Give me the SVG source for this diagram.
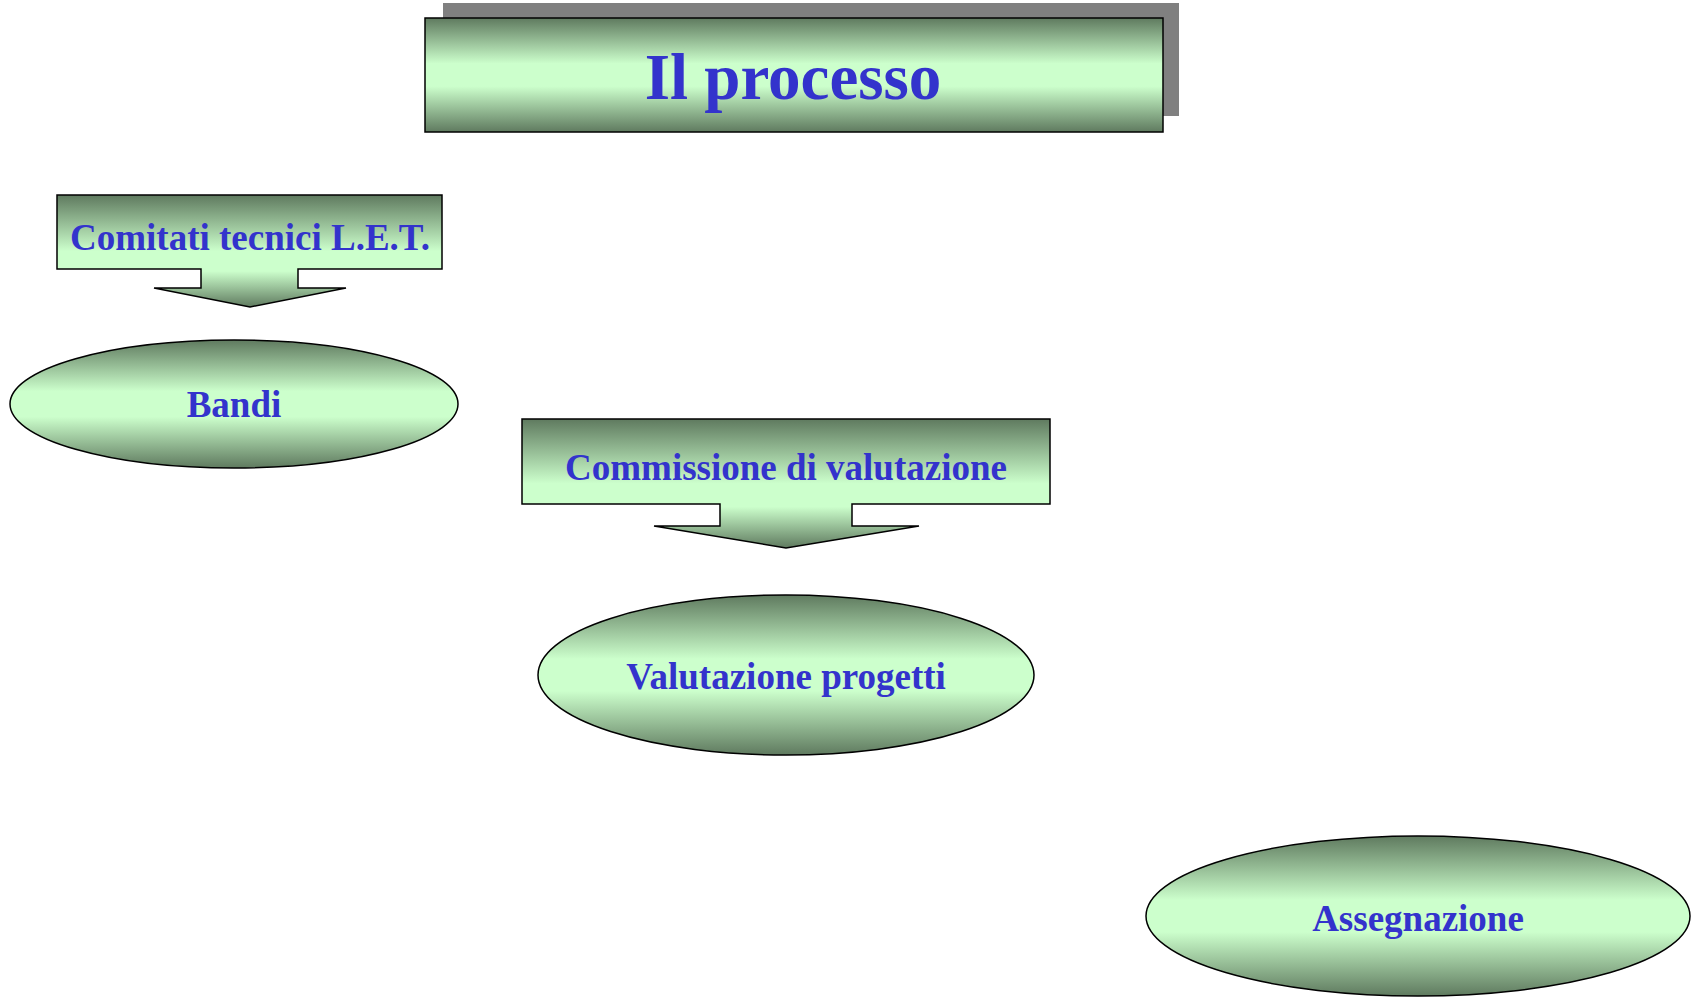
<svg xmlns="http://www.w3.org/2000/svg" width="1697" height="1002" viewBox="0 0 1697 1002">
<defs>
<linearGradient id="gv" x1="0" y1="0" x2="0" y2="1">
<stop offset="0" stop-color="#5f7a5f"/>
<stop offset="0.4" stop-color="#ccffcc"/>
<stop offset="0.6" stop-color="#ccffcc"/>
<stop offset="1" stop-color="#5f7a5f"/>
</linearGradient>
<linearGradient id="ga" x1="0" y1="0" x2="0" y2="1">
<stop offset="0" stop-color="#5f7a5f"/>
<stop offset="0.5" stop-color="#ccffcc"/>
<stop offset="0.68" stop-color="#ccffcc"/>
<stop offset="1" stop-color="#5f7a5f"/>
</linearGradient>
<style>
.sh{fill:url(#gv);stroke:#000;stroke-width:1.5}
.ar{fill:url(#ga);stroke:#000;stroke-width:1.5}
.t{font-family:"Liberation Serif","Times New Roman",serif;font-weight:bold;fill:#3333cc;text-anchor:middle;font-size:37px}
</style>
</defs>
<rect width="1697" height="1002" fill="#fff"/>
<g id="title">
<rect x="443" y="3" width="736" height="113" fill="#808080"/>
<rect x="425" y="18" width="738" height="114" class="sh" stroke-width="2"/>
<text x="793" y="99" class="t" style="font-size:65px">Il processo</text>
</g>
<g id="comitati">
<path class="ar" d="M57,195 H442 V269 H298 V288 H346 L250,307 L154,288 H201 V269 H57 Z"/>
<text x="250" y="250" class="t">Comitati tecnici L.E.T.</text>
</g>
<g id="bandi">
<ellipse cx="234" cy="404" rx="224" ry="64" class="sh"/>
<text x="234" y="417" class="t">Bandi</text>
</g>
<g id="commissione">
<path class="ar" d="M522,419 H1050 V504 H852 V526 H919 L786,548 L654,526 H720 V504 H522 Z"/>
<text x="786" y="480" class="t">Commissione di valutazione</text>
</g>
<g id="valutazione">
<ellipse cx="786" cy="675" rx="248" ry="80" class="sh"/>
<text x="786" y="689" class="t">Valutazione progetti</text>
</g>
<g id="assegnazione">
<ellipse cx="1418" cy="916" rx="272" ry="80" class="sh"/>
<text x="1418" y="931" class="t">Assegnazione</text>
</g>
<g id="connectors"/>
</svg>
